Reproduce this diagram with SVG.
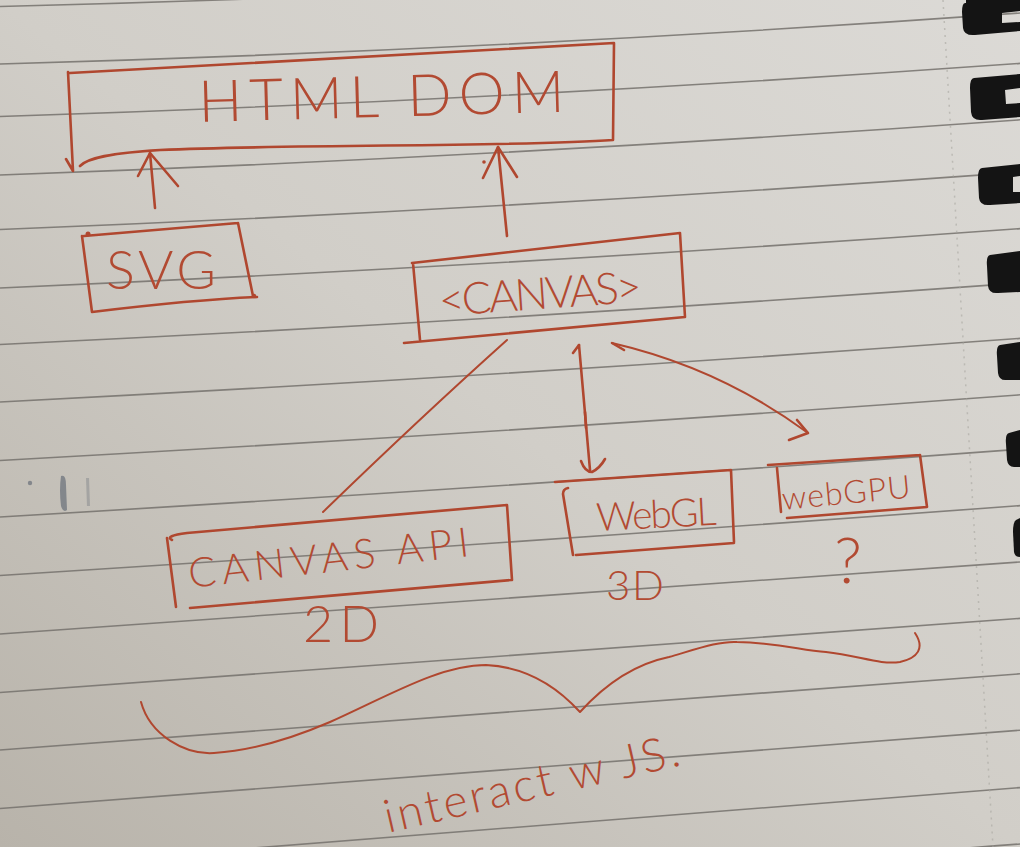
<svg xmlns="http://www.w3.org/2000/svg" width="1020" height="847" viewBox="0 0 1020 847">
<defs>
<linearGradient id="paper" x1="1" y1="0" x2="0" y2="1">
<stop offset="0" stop-color="#dcdad6"/>
<stop offset="0.5" stop-color="#d1cec8"/>
<stop offset="1" stop-color="#b8b3aa"/>
</linearGradient>
<style>
.rule{fill:none;stroke:#74716c;stroke-width:1.6;opacity:.85}
.ink{fill:none;stroke:#b0472f;stroke-width:2.6;stroke-linecap:round;stroke-linejoin:round}
.thin{stroke-width:2}
.dot{fill:#b0472f}
.hw{fill:#b24a32;font-family:Lato,"DejaVu Sans","Liberation Sans",sans-serif;font-weight:300}
.blob{fill:#141414}
</style>
</defs>
<g id="paper-bg">
<rect width="1020" height="847" fill="url(#paper)"/>
<g id="rules">
<path class="rule" d="M0,6.5 Q510,-6 1020,-42.4"/>
<path class="rule" d="M0,64 Q510,49.5 1020,13"/>
<path class="rule" d="M0,116.5 Q510,100 1020,63.4"/>
<path class="rule" d="M0,175 Q510,156.6 1020,119.8"/>
<path class="rule" d="M0,229.5 Q510,209.2 1020,172.2"/>
<path class="rule" d="M0,288 Q510,265.7 1020,228.6"/>
<path class="rule" d="M0,344.5 Q510,320.3 1020,283"/>
<path class="rule" d="M0,402 Q510,375.8 1020,338.4"/>
<path class="rule" d="M0,460.5 Q510,432.4 1020,394.8"/>
<path class="rule" d="M0,517 Q510,486.9 1020,449.2"/>
<path class="rule" d="M0,575.5 Q510,543.5 1020,505.6"/>
<path class="rule" d="M0,634 Q510,600 1020,562"/>
<path class="rule" d="M0,692.5 Q510,656.6 1020,618.4"/>
<path class="rule" d="M0,750 Q510,712.1 1020,673.8"/>
<path class="rule" d="M0,808.5 Q510,768.7 1020,730.2"/>
<path class="rule" d="M0,868 Q510,826.2 1020,787.6"/>
<path class="rule" d="M0,926.5 Q510,882.8 1020,844"/>
</g>
<path d="M943,0 L993,847" fill="none" stroke="#a9a6a0" stroke-width="1.5" stroke-dasharray="2 5" opacity=".6"/>
<g id="smudges" fill="#4f5968" opacity=".55">
<path d="M61,476 Q66,474 66,485 L67,510 Q63,513 61,506 Q59,490 61,476 Z"/>
<circle cx="30" cy="483" r="2.2"/>
<path d="M86,478 L89,478 L90,506 L87,506 Z" opacity=".5"/>
</g>
<g id="binding">
<path class="blob" d="M966,3 Q962,2 962,12 L963,28 Q964,36 975,35 L1020,31 L1020,22 L1002,23 L1002,13 L1020,11 L1020,0 L966,0 Z"/>
<path class="blob" d="M974,78 Q970,78 970,88 L971,112 Q972,121 982,120 L1020,117 L1020,103 L1006,104 L1005,90 L1020,88 L1020,74 Z"/>
<path class="blob" d="M982,168 Q978,168 978,178 L979,198 Q980,206 990,205 L1020,203 L1020,192 L1013,192 L1013,177 L1020,176 L1020,164 Z"/>
<path class="blob" d="M990,255 Q986,256 987,266 L988,286 Q989,294 998,293 L1020,292 L1020,251 Z"/>
<path class="blob" d="M1000,345 Q996,346 997,356 L998,373 Q999,381 1007,380 L1020,380 L1020,342 Z"/>
<path class="blob" d="M1009,433 Q1005,434 1006,444 L1007,460 Q1008,467 1014,467 L1020,467 L1020,430 Z"/>
<path class="blob" d="M1016,520 Q1013,522 1013,532 L1014,552 Q1015,557 1020,557 L1020,518 Z"/>
</g>
</g>
<g id="connectors">
<path class="ink" d="M155,208 L150,153"/>
<path class="ink" d="M138,176 L150,153 L178,186"/>
<path class="ink" d="M507,236 L498,147"/>
<path class="ink" d="M483,178 L498,147 L517,177"/>
<circle class="dot" cx="484" cy="162" r="1.8"/>
<path class="ink thin" d="M507,340 Q420,418 323,512"/>
<path class="ink" d="M579,345 Q585,410 590,470"/>
<path class="ink" d="M573,353 L579,345"/>
<path class="ink" d="M585,412 L586,428" stroke-width="4"/>
<path class="ink" d="M581,461 Q585,472 592,472 Q600,468 605,459"/>
<path class="ink thin" d="M612,343 Q720,368 808,433"/>
<path class="ink" d="M612,343 L624,350"/>
<path class="ink" d="M797,420 L808,433 L789,440"/>
</g>
<g id="node-html-dom">
<path class="ink" d="M70,73 L614,43 M614,43 L613,140 M613,140 C520,147 300,144 160,150 C110,153 88,158 80,166 M68,72 L73,171 M66,159 L73,171"/>
<text class="hw" x="199" y="122" font-size="58" textLength="366" lengthAdjust="spacing" transform="rotate(-1.6 199 122)">HTML DOM</text>
</g>
<g id="node-svg">
<path class="ink" d="M84,236 L238,223 M238,223 L253,296 M92,312 C150,305 210,299 257,297 M82,236 L92,312"/>
<circle class="dot" cx="88" cy="234" r="2.5"/>
<circle class="dot" cx="254" cy="296" r="2.2"/>
<text class="hw" x="106" y="289" font-size="54" textLength="110" lengthAdjust="spacing">SVG</text>
</g>
<g id="node-canvas">
<path class="ink" d="M412,263 L680,233 M680,233 L685,317 M404,343 L685,317 M413,263 L420,340"/>
<text class="hw" x="440" y="316" font-size="44" textLength="203" lengthAdjust="spacing" transform="rotate(-4 440 316)">&lt;CANVAS&gt;</text>
</g>
<g id="node-canvas-api">
<path class="ink" d="M172,540 Q164,536 187,533 L507,505 M507,505 L512,580 M190,608 L511,580 M167,538 L176,607"/>
<text class="hw" x="190" y="588" font-size="41" textLength="282" lengthAdjust="spacing" transform="rotate(-6.5 190 588)">CANVAS API</text>
<text class="hw" x="303" y="642" font-size="52" textLength="76" lengthAdjust="spacing">2D</text>
</g>
<g id="node-webgl">
<path class="ink" d="M555,482 L731,470 M731,470 L734,542 M576,555 L734,543 M563,494 L573,555 M563,494 Q563,489 568,488"/>
<text class="hw" x="597" y="531" font-size="39" textLength="120" lengthAdjust="spacing" transform="rotate(-3 597 531)">WebGL</text>
<text class="hw" x="606" y="600" font-size="42" textLength="58" lengthAdjust="spacing">3D</text>
</g>
<g id="node-webgpu">
<path class="ink" d="M768,465 L920,455 M920,455 L927,507 M787,518 L927,507 M777,468 L781,512"/>
<text class="hw" x="783" y="510" font-size="32" textLength="129" lengthAdjust="spacing" transform="rotate(-5.5 783 510)">webGPU</text>
<text class="hw" x="848" y="583" font-size="64" text-anchor="middle">?</text>
</g>
<g id="annotation-brace">
<path class="ink thin" d="M141,702 C150,735 185,755 214,753 C260,750 300,735 330,722 C390,695 440,665 486,665 C530,667 560,690 580,712 C600,690 630,665 669,657 C700,648 720,641 737,642 C780,643 800,650 826,652 C860,656 880,665 900,662 C918,658 925,648 915,633"/>
<text class="hw" x="388" y="833" font-size="46" textLength="302" lengthAdjust="spacing" transform="rotate(-13 388 833)">interact w JS.</text>
</g>
</svg>
